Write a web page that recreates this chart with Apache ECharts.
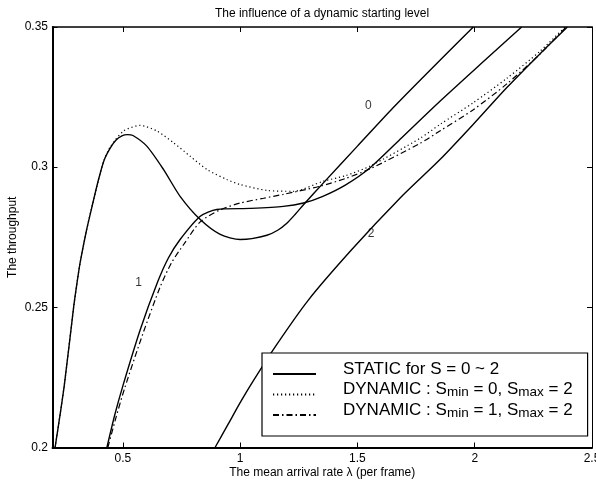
<!DOCTYPE html>
<html>
<head>
<meta charset="utf-8">
<title>The influence of a dynamic starting level</title>
<script src="https://cdn.jsdelivr.net/npm/echarts@6.0.0/dist/echarts.min.js"></script>
<style>
  html, body { margin: 0; padding: 0; background: #fff; }
  #chart { width: 596px; height: 485px; }
</style>
</head>
<body>
<div id="chart"></div>
<script>
// values: [lambda, throughput]
const static0 = [[0.211, 0.200], [0.25, 0.222], [0.29, 0.250], [0.305, 0.259], [0.318, 0.266], [0.345, 0.2775],
  [0.37, 0.2865], [0.396, 0.2955], [0.42, 0.3025], [0.446, 0.3068], [0.47, 0.3096], [0.496, 0.3112],
  [0.52, 0.3116], [0.543, 0.3113], [0.602, 0.3075], [0.673, 0.2992], [0.744, 0.2896], [0.83, 0.2813],
  [0.915, 0.276], [1.0, 0.2742], [1.05, 0.2745], [1.114, 0.2757], [1.16, 0.2775], [1.199, 0.280],
  [1.235, 0.2832], [1.27, 0.2866], [1.355, 0.2944], [1.5, 0.3075], [1.652, 0.3212], [1.8, 0.3338], [1.994, 0.35]];
const static1 = [[0.432, 0.200], [0.465, 0.2115], [0.5, 0.222], [0.574, 0.242], [0.648, 0.259], [0.694, 0.2676],
  [0.744, 0.2742], [0.83, 0.2825], [0.9, 0.2849], [1.043, 0.2853], [1.184, 0.286], [1.27, 0.2872],
  [1.35, 0.2895], [1.45, 0.2937], [1.554, 0.2998], [1.69, 0.3106], [1.853, 0.3236], [2.023, 0.3366], [2.2, 0.35]];
const static2 = [[0.893, 0.200], [0.95, 0.2085], [1.0, 0.216], [1.044, 0.2222], [1.15, 0.236], [1.29, 0.2525],
  [1.476, 0.2706], [1.682, 0.289], [1.853, 0.3028], [1.994, 0.3153], [2.137, 0.3284], [2.279, 0.3405], [2.395, 0.35]];
const dynamic0 = [[0.211, 0.200], [0.25, 0.222], [0.29, 0.250], [0.305, 0.259], [0.318, 0.266], [0.345, 0.2775],
  [0.37, 0.2865], [0.396, 0.2955], [0.42, 0.3025], [0.446, 0.3072], [0.503, 0.3129], [0.574, 0.3149],
  [0.645, 0.3129], [0.716, 0.3087], [0.787, 0.3039], [0.858, 0.2992], [0.943, 0.2956], [1.0, 0.2938],
  [1.114, 0.2917], [1.227, 0.2914], [1.355, 0.295], [1.45, 0.297], [1.554, 0.3004], [1.767, 0.3103],
  [1.853, 0.3153], [1.994, 0.323], [2.137, 0.3317], [2.279, 0.3414], [2.385, 0.35]];
const dynamic1 = [[0.436, 0.200], [0.47, 0.2105], [0.507, 0.221], [0.585, 0.2405], [0.66, 0.2575], [0.708, 0.266],
  [0.76, 0.2725], [0.83, 0.2805], [0.915, 0.2848], [1.0, 0.2872], [1.1, 0.2889], [1.184, 0.2903],
  [1.341, 0.2932], [1.45, 0.296], [1.554, 0.2994], [1.767, 0.3085], [1.853, 0.313], [1.994, 0.3205],
  [2.137, 0.3297], [2.279, 0.3404], [2.39, 0.35]];

// S labels written next to the static curves
const curveLabelText = ["0", "1", "2"];
const curveLabelX = [1.547, 0.567, 1.558];
const curveLabelY = [0.3218, 0.2589, 0.2763];

const xTicks = [0.5, 1, 1.5, 2, 2.5];
const yTicks = [0.2, 0.25, 0.3, 0.35];

const legendNames = ["STATIC for S = 0 ~ 2", "DYNAMIC : Smin = 0, Smax = 2", "DYNAMIC : Smin = 1, Smax = 2"];
const legendRich = [
  "{t|STATIC for S = 0 ~ 2}",
  "{t|DYNAMIC : S}{s|min}{t| = 0, S}{s|max}{t| = 2}",
  "{t|DYNAMIC : S}{s|min}{t| = 1, S}{s|max}{t| = 2}",
];

const FONT = '"Liberation Sans", Arial, Helvetica, sans-serif';

const chart = echarts.init(document.getElementById("chart"));

// 上 / 右 两条镜像坐标轴只画刻度
const mirrorX = {
  type: "value", position: "top", min: 0.2, max: 2.5,
  axisLine: { show: true, onZero: false, lineStyle: { color: "#000", width: 1.5 } },
  axisTick: { show: true, inside: true, length: 5, customValues: xTicks, lineStyle: { color: "#000" } },
  axisLabel: { show: false },
  splitLine: { show: false },
};
const mirrorY = {
  type: "value", position: "right", min: 0.2, max: 0.35,
  axisLine: { show: true, onZero: false, lineStyle: { color: "#000", width: 1 } },
  axisTick: { show: true, inside: true, length: 5, customValues: yTicks, lineStyle: { color: "#000" } },
  axisLabel: { show: false },
  splitLine: { show: false },
};

const lineSeries = (name, data, type, width) => ({
  name,
  type: "line",
  data,
  xAxisIndex: 0,
  yAxisIndex: 0,
  smooth: 0.25,
  symbol: "none",
  color: "#000",
  lineStyle: { color: "#000", width, type },
  itemStyle: { color: "#000" },
  silent: true,
});

const option = {
  animation: false,
  backgroundColor: "#fff",
  title: {
    text: "The influence of a dynamic starting level",
    left: 322,
    top: 7.5,
    padding: 0,
    textAlign: "center",
    textStyle: { fontSize: 12, fontWeight: "normal", color: "#000", fontFamily: FONT },
  },
  grid: { left: 52.5, right: 4, top: 27, bottom: 37.5, outerBoundsMode: "none" },
  legend: {
    data: legendNames,
    orient: "vertical",
    left: 262,
    top: 353,
    padding: [6, 15, 6, 10],
    itemGap: -9.5,
    itemWidth: 43,
    itemHeight: 14,
    selectedMode: false,
    backgroundColor: "#fff",
    borderColor: "#000",
    borderWidth: 1.2,
    itemStyle: { opacity: 0 },
    formatter: (name) => legendRich[legendNames.indexOf(name)],
    textStyle: {
      color: "#000",
      fontFamily: FONT,
      fontSize: 17,
      lineHeight: 20,
      padding: [0, 0, 10, 22],
      rich: {
        t: { fontSize: 17, lineHeight: 20, color: "#000", fontFamily: FONT },
        s: { fontSize: 13.5, lineHeight: 5, verticalAlign: "bottom", color: "#000", fontFamily: FONT },
      },
    },
  },
  xAxis: [
    {
      type: "value", position: "bottom", min: 0.2, max: 2.5,
      name: "The mean arrival rate λ (per frame)",
      nameLocation: "middle",
      nameGap: 19.5,
      nameMoveOverlap: false,
      nameTextStyle: { fontSize: 12, color: "#000", fontFamily: FONT },
      axisLine: { show: true, onZero: false, lineStyle: { color: "#000", width: 2 } },
      axisTick: { show: true, inside: true, length: 5, customValues: xTicks, lineStyle: { color: "#000" } },
      axisLabel: { customValues: xTicks, margin: 5.5, fontSize: 12, color: "#000", fontFamily: FONT, formatter: (v) => String(v) },
      splitLine: { show: false },
    },
    mirrorX,
  ],
  yAxis: [
    {
      type: "value", position: "left", min: 0.2, max: 0.35,
      name: "The throughput",
      nameLocation: "middle",
      nameGap: 33.5,
      nameMoveOverlap: false,
      nameTextStyle: { fontSize: 12, color: "#000", fontFamily: FONT },
      axisLine: { show: true, onZero: false, lineStyle: { color: "#000", width: 2 } },
      axisTick: { show: true, inside: true, length: 5, customValues: yTicks, lineStyle: { color: "#000" } },
      axisLabel: { customValues: yTicks, margin: 4.5, fontSize: 12, color: "#000", fontFamily: FONT, formatter: (v) => String(v) },
      splitLine: { show: false },
    },
    mirrorY,
  ],
  series: [
    lineSeries(legendNames[0], static0, "solid", 1.4),
    lineSeries(legendNames[0], static1, "solid", 1.4),
    lineSeries(legendNames[0], static2, "solid", 1.4),
    lineSeries(legendNames[1], dynamic0, [1.2, 2.8], 1.2),
    lineSeries(legendNames[2], dynamic1, [6, 3, 1.5, 3], 1.2),
    {
      name: "S labels",
      type: "scatter",
      silent: true,
      symbolSize: 1,
      itemStyle: { color: "transparent" },
      data: curveLabelX.map((x, i) => [x, curveLabelY[i], curveLabelText[i]]),
      label: {
        show: true,
        position: "inside",
        formatter: (p) => p.value[2],
        fontSize: 12,
        color: "#000",
        fontFamily: FONT,
      },
    },
  ],
};

chart.setOption(option);
</script>
</body>
</html>
